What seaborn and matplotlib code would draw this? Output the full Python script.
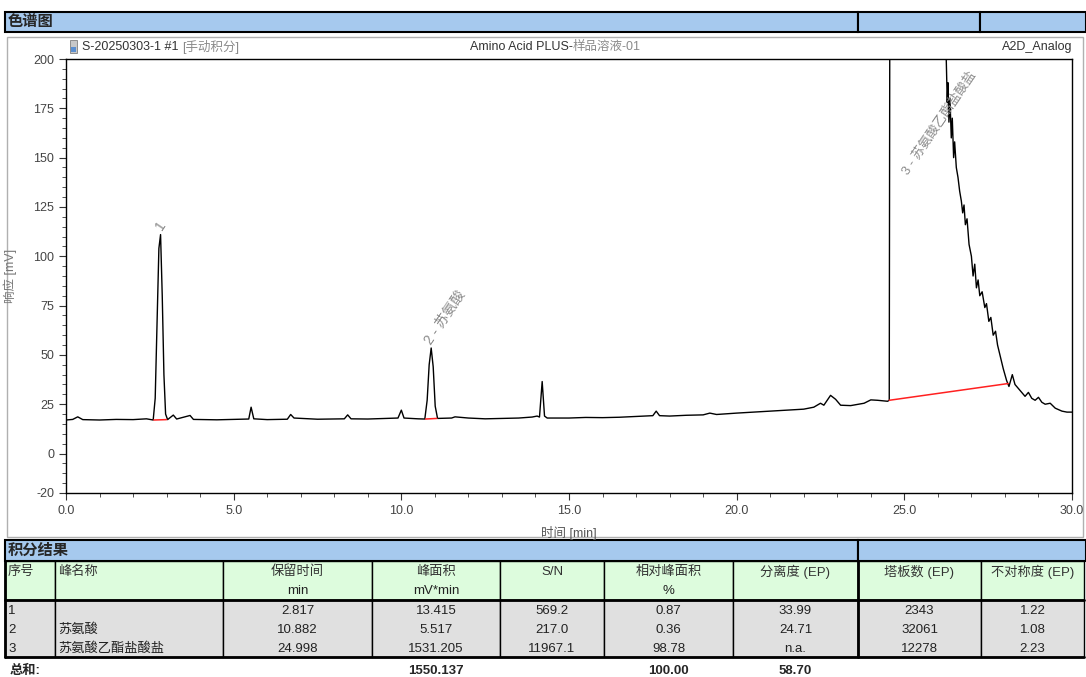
import matplotlib
matplotlib.use('Agg')
import matplotlib.pyplot as plt
from matplotlib.patches import Rectangle
from matplotlib.ticker import MultipleLocator, FixedLocator
import seaborn as sns
import pandas as pd

# ------------------------------
# Chromatogram trace (time in min, signal in mV)
# ------------------------------
time_min = [0.00, 0.20, 0.35, 0.50, 1.00, 1.50, 2.00, 2.40, 2.60, 2.66, 2.72, 2.77, 2.82, 2.87,
            2.92, 2.97, 3.03, 3.20, 3.30, 3.70, 3.80, 4.50, 5.00, 5.45, 5.52, 5.60, 6.00, 6.60,
            6.70, 6.80, 7.50, 8.30, 8.40, 8.50, 9.00, 9.50, 9.90, 10.00, 10.08, 10.50, 10.70,
            10.77, 10.83, 10.89, 10.95, 11.01, 11.08, 11.50, 11.60, 12.00, 12.50, 13.00, 13.50,
            13.90, 14.05, 14.12, 14.20, 14.27, 14.35, 15.00, 15.50, 16.00, 16.50, 17.00, 17.50,
            17.60, 17.70, 18.00, 18.50, 19.00, 19.20, 19.40, 20.00, 20.50, 21.00, 21.50, 22.00,
            22.30, 22.50, 22.60, 22.80, 22.95, 23.10, 23.40, 23.80, 24.00, 24.20, 24.50, 24.55,
            24.57, 26.20, 26.25, 26.28, 26.30, 26.33, 26.36, 26.40, 26.43, 26.47, 26.50, 26.55,
            26.60, 26.65, 26.70, 26.74, 26.78, 26.82, 26.87, 26.93, 27.00, 27.05, 27.10, 27.15,
            27.20, 27.25, 27.32, 27.40, 27.45, 27.52, 27.58, 27.65, 27.72, 27.78, 27.85, 27.95,
            28.05, 28.12, 28.22, 28.30, 28.40, 28.50, 28.60, 28.70, 28.80, 28.90, 29.00, 29.10,
            29.20, 29.35, 29.50, 29.70, 29.85, 30.00]
signal_mv = [17.0, 17.3, 18.6, 17.2, 17.0, 17.3, 17.2, 17.6, 17.0, 28.0, 70.0, 104.0, 111.0, 80.0,
             40.0, 20.0, 17.2, 19.5, 17.5, 19.3, 17.3, 17.1, 17.3, 17.5, 23.5, 17.6, 17.2, 17.4,
             19.8, 18.0, 17.4, 17.6, 19.6, 17.6, 17.5, 17.8, 18.0, 22.0, 18.0, 17.6, 17.5,
             27.0, 45.0, 53.5, 44.0, 24.0, 17.8, 18.0, 18.6, 18.0, 17.6, 17.8, 18.0,
             18.5, 19.0, 18.5, 36.5, 19.0, 18.0, 18.0, 18.3, 18.2, 18.4, 18.8, 19.2,
             21.5, 19.2, 19.0, 19.4, 19.6, 20.5, 19.8, 20.5, 21.0, 21.5, 22.0, 22.5,
             23.5, 25.5, 24.5, 29.5, 27.5, 24.5, 24.3, 25.5, 27.2, 27.0, 26.5, 27.0,
             260.0, 260.0, 200.0, 178.0, 188.0, 168.0, 180.0, 160.0, 170.0, 150.0, 158.0, 145.0,
             140.0, 133.0, 128.0, 122.0, 126.0, 116.0, 119.0, 106.0, 100.0, 90.0, 96.0, 84.0,
             88.0, 80.0, 82.0, 74.0, 76.0, 67.0, 69.0, 60.0, 62.0, 55.0, 50.0, 43.0,
             37.0, 34.0, 40.0, 35.0, 33.0, 31.0, 29.0, 31.0, 28.0, 27.0, 28.5, 26.0,
             25.0, 25.5, 23.0, 21.5, 21.0, 21.0]

# integration baselines (red)
base_t0 = [2.62, 10.72, 24.55]
base_v0 = [17.0, 17.5, 27.0]
base_t1 = [3.00, 11.06, 28.10]
base_v1 = [17.2, 17.8, 35.5]

peak_labels = ['1', '2 - 苏氨酸', '3 - 苏氨酸乙酯盐酸盐']
peak_label_t = [2.76, 10.78, 25.05]
peak_label_v = [114, 56, 142]
peak_label_size = [10, 10, 9.3]

x_ticks = [0, 5, 10, 15, 20, 25, 30]
y_ticks = [-20, 0, 25, 50, 75, 100, 125, 150, 175, 200]

# ------------------------------
# Integration results table
# ------------------------------
col_head1 = ['序号', '峰名称', '保留时间', '峰面积', 'S/N', '相对峰面积', '分离度 (EP)', '塔板数 (EP)', '不对称度 (EP)']
col_head2 = ['', '', 'min', 'mV*min', '', '%', '', '', '']
peak_no = ['1', '2', '3']
peak_name = ['', '苏氨酸', '苏氨酸乙酯盐酸盐']
ret_time = ['2.817', '10.882', '24.998']
peak_area = ['13.415', '5.517', '1531.205']
s_to_n = ['569.2', '217.0', '11967.1']
rel_area = ['0.87', '0.36', '98.78']
resolution = ['33.99', '24.71', 'n.a.']
plates = ['2343', '32061', '12278']
asymmetry = ['1.22', '1.08', '2.23']
total_label = '总和:'
total_area = '1550.137'
total_rel = '100.00'
total_res = '58.70'

# ------------------------------
# Figure
# ------------------------------
sns.set_theme(style='white')
plt.rcParams['font.family'] = ['Liberation Sans', 'Noto Sans CJK SC', 'DejaVu Sans']

W, H = 1086, 677
fig = plt.figure(figsize=(W / 100, H / 100), dpi=100)
fig.patch.set_facecolor('white')

page = fig.add_axes([0, 0, 1, 1], zorder=0)
page.set_xlim(0, W)
page.set_ylim(H, 0)
page.axis('off')

BLUE = '#a6c9ee'
GREEN = '#ddfcdd'
GREY = '#e0e0e0'

def box(x0, x1, y0, y1, fc='none', lw=1.0, ec='black'):
    page.add_patch(Rectangle((x0, y0), x1 - x0, y1 - y0, facecolor=fc, edgecolor=ec, lw=lw))

# header bar of the chromatogram
box(5, 858, 12, 32, BLUE, lw=1.5)
box(858, 980, 12, 32, BLUE, lw=1.5)
box(980, 1086, 12, 32, BLUE, lw=1.5)
page.text(8, 22, '色谱图', fontsize=11, fontweight='bold', va='center', ha='left')

# frame around the chart
box(7, 1083, 37, 537, 'none', lw=1.0, ec='#b0b0b0')

# small sample icon and title line
box(70, 77, 40, 53, '#c8c8c8', lw=0.6, ec='#808080')
box(71, 76, 47, 52, '#5b8fd0', lw=0)
t1 = page.text(82, 47, 'S-20250303-1 #1 ', fontsize=9, color='#333333', va='center', ha='left')
page.annotate('[手动积分]', xy=(1, 0.5), xycoords=t1, fontsize=9, color='#8a8a8a', va='center', ha='left')
t2 = page.text(470, 47, 'Amino Acid PLUS-', fontsize=9, color='#333333', va='center', ha='left')
page.annotate('样品溶液-01', xy=(1, 0.5), xycoords=t2, fontsize=9, color='#8a8a8a', va='center', ha='left')
page.text(1072, 47, 'A2D_Analog', fontsize=9, color='#333333', va='center', ha='right')

# ------------------------------
# Chromatogram axes
# ------------------------------
ax_l, ax_r, ax_t, ax_b = 66, 1072, 59, 493
ax = fig.add_axes([ax_l / W, 1 - ax_b / H, (ax_r - ax_l) / W, (ax_b - ax_t) / H], zorder=2)
ax.set_facecolor('white')

trace = pd.DataFrame({'t': time_min, 'mv': signal_mv})
sns.lineplot(data=trace, x='t', y='mv', ax=ax, color='black', lw=1.0, estimator=None, sort=False)
for a, b, c, d in zip(base_t0, base_v0, base_t1, base_v1):
    ax.plot([a, c], [b, d], color='#ff2020', lw=1.1)

for txt, t, v, fs in zip(peak_labels, peak_label_t, peak_label_v, peak_label_size):
    ax.text(t, v, txt, rotation=56, rotation_mode='anchor', ha='left', va='center',
            fontsize=fs, color='#8a8a8a')

ax.set_xlim(0, 30)
ax.set_ylim(-20, 200)
ax.xaxis.set_major_locator(FixedLocator(x_ticks))
ax.xaxis.set_minor_locator(MultipleLocator(1))
ax.yaxis.set_major_locator(FixedLocator(y_ticks))
ax.yaxis.set_minor_locator(MultipleLocator(5))
ax.set_xticklabels([f'{v:.1f}' for v in x_ticks])
ax.set_yticklabels([str(v) for v in y_ticks])
ax.tick_params(axis='both', which='major', direction='out', length=5, width=0.8,
               labelsize=9, labelcolor='#444444', color='#333333', bottom=True, left=True)
ax.tick_params(axis='both', which='minor', direction='out', length=3, width=0.6,
               color='#333333', bottom=True, left=True)
for s in ax.spines.values():
    s.set_color('black')
    s.set_linewidth(1.0)

ax.set_xlabel('时间 [min]', fontsize=9, color='#555555')
ax.set_ylabel('响应 [mV]', fontsize=9, color='#777777')
ax.xaxis.set_label_coords(0.5, (ax_b - 526) / (ax_b - ax_t))
ax.yaxis.set_label_coords((17 - ax_l) / (ax_r - ax_l), 0.5)

# ------------------------------
# Integration results table
# ------------------------------
col_edges = [5, 55, 223, 372, 500, 604, 733, 858, 981, 1084]
box(5, 858, 540, 561, BLUE, lw=1.5)
box(858, 1086, 540, 561, BLUE, lw=1.5)
page.text(8, 551, '积分结果', fontsize=11, fontweight='bold', va='center', ha='left')

head_top, head_bot = 561, 600
row_h = 19
data_top = head_bot
data_bot = data_top + 3 * row_h

for i in range(len(col_head1)):
    x0, x1 = col_edges[i], col_edges[i + 1]
    box(x0, x1, head_top, head_bot, GREEN, lw=1.0)
    box(x0, x1, data_top, data_bot, GREY, lw=1.0)
    left = i < 2
    xt = x0 + 3 if left else (x0 + x1) / 2
    ha = 'left' if left else 'center'
    page.text(xt, 572, col_head1[i], fontsize=9.5, color='#333333', ha=ha, va='center')
    if col_head2[i]:
        page.text(xt, 591, col_head2[i], fontsize=9.5, color='#222222', ha=ha, va='center')

page.plot([5, 1084], [head_bot, head_bot], color='black', lw=2)
page.plot([5, 1084], [data_bot, data_bot], color='black', lw=2)
page.plot([5, 5], [head_top, data_bot], color='black', lw=2)
page.plot([858, 858], [head_top, data_bot], color='black', lw=2)

columns = [peak_no, peak_name, ret_time, peak_area, s_to_n, rel_area, resolution, plates, asymmetry]
for r in range(3):
    yc = data_top + row_h * r + 11
    for i, col in enumerate(columns):
        x0, x1 = col_edges[i], col_edges[i + 1]
        if i < 2:
            page.text(x0 + 3, yc, col[r], fontsize=9.5, color='#222222', ha='left', va='center')
        else:
            page.text((x0 + x1) / 2, yc, col[r], fontsize=9.5, color='#222222', ha='center', va='center')

yt = 671
page.text(10, yt, total_label, fontsize=9.5, fontweight='bold', ha='left', va='center')
for i, val in [(3, total_area), (5, total_rel), (6, total_res)]:
    page.text((col_edges[i] + col_edges[i + 1]) / 2, yt, val, fontsize=9.5,
              fontweight='bold', ha='center', va='center')

fig.savefig('out.png', dpi=100)
